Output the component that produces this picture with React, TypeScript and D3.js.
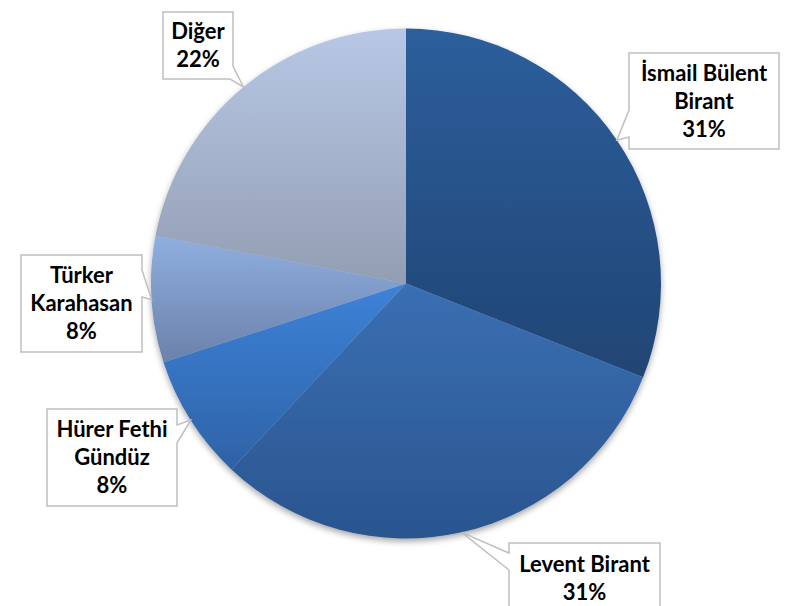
import React from "react";
import * as d3 from "d3";

const categories = ["İsmail Bülent Birant", "Levent Birant", "Hürer Fethi Gündüz", "Türker Karahasan", "Diğer"];
const values = [31, 31, 8, 8, 22];
const percentLabels = ["31%", "31%", "8%", "8%", "22%"];
const firstLineWords = [2, 2, 2, 1, 1];

const gradTop = ["#2d5e9c", "#3a6fb3", "#3d82d8", "#8fafe0", "#b7c7e5"];
const gradBottom = ["#204574", "#2a558f", "#2e62a6", "#6b81aa", "#939eb3"];

type Box = { x: number; y: number; w: number; h: number; side: string; b0: number; b1: number };
const boxes: Box[] = [
  { x: 629, y: 53, w: 150, h: 96, side: "left", b0: 110, b1: 137 },
  { x: 509, y: 543, w: 151, h: 70, side: "left", b0: 553, b1: 570 },
  { x: 47, y: 409, w: 130, h: 97, side: "right", b0: 425, b1: 443 },
  { x: 21, y: 255, w: 121, h: 97, side: "right", b0: 270, b1: 297 },
  { x: 163, y: 12, w: 70, h: 67, side: "corner", b0: 66, b1: 230 },
];

const W = 797, H = 606;
const cx = 406, cy = 283.5, R = 255;

function calloutPath(b: Box, tx: number, ty: number) {
  const { x, y, w, h } = b;
  const p: [number, number][] = [[x, y], [x + w, y]];
  if (b.side === "right") {
    p.push([x + w, b.b0], [tx, ty], [x + w, b.b1]);
  }
  if (b.side === "corner") {
    p.push([x + w, b.b0], [tx, ty], [b.b1, y + h]);
  } else {
    p.push([x + w, y + h]);
  }
  p.push([x, y + h]);
  if (b.side === "left") {
    p.push([x, b.b1], [tx, ty], [x, b.b0]);
  }
  return "M" + p.map((q) => q.join(",")).join("L") + "Z";
}

export default function App() {
  const pie = d3.pie<number>().sort(null).value((d) => d);
  const arcs = pie(values);
  const arcGen = d3.arc<d3.PieArcDatum<number>>().innerRadius(0).outerRadius(R);
  const lineH = 28;

  return (
    <svg width={W} height={H} style={{ position: "absolute", left: 0, top: 0, background: "#fff" }}
      fontFamily="Lato, 'Open Sans', sans-serif">
      <defs>
        {arcs.map((a, i) => (
          <linearGradient key={i} id={`g${i}`} x1="0" y1="0" x2="0" y2="1">
            <stop offset="0" stopColor={gradTop[i]} />
            <stop offset="1" stopColor={gradBottom[i]} />
          </linearGradient>
        ))}
        <filter id="sh" x="-10%" y="-10%" width="120%" height="125%">
          <feDropShadow dx="0" dy="3" stdDeviation="3" floodColor="#000" floodOpacity="0.35" />
        </filter>
      </defs>
      <rect width={W} height={H} fill="#fff" />
      <g transform={`translate(${cx},${cy})`} filter="url(#sh)">
        {arcs.map((a, i) => (
          <path key={i} d={arcGen(a) || ""} fill={`url(#g${i})`} />
        ))}
      </g>
      {arcs.map((a, i) => {
        const mid = (a.startAngle + a.endAngle) / 2;
        const tx = cx + R * Math.sin(mid);
        const ty = cy - R * Math.cos(mid);
        const b = boxes[i];
        const words = categories[i].split(" ");
        const lines = [words.slice(0, firstLineWords[i]).join(" ")];
        if (words.length > firstLineWords[i]) lines.push(words.slice(firstLineWords[i]).join(" "));
        lines.push(percentLabels[i]);
        const mx = b.x + b.w / 2;
        const my = b.y + b.h / 2 + 7.5;
        return (
          <g key={i}>
            <path d={calloutPath(b, tx, ty)} fill="#fff" stroke="#bfbfbf" strokeWidth={1.5} />
            {lines.map((t, j) => (
              <text key={j} x={mx} y={my + (j - (lines.length - 1) / 2) * lineH} textAnchor="middle"
                fontSize={22} fontWeight="bold" fill="#000">{t}</text>
            ))}
          </g>
        );
      })}
    </svg>
  );
}
